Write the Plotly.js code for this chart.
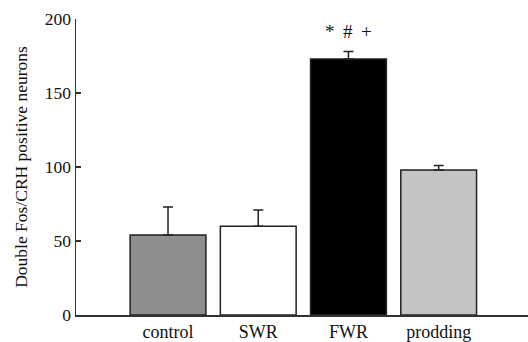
<!DOCTYPE html>
<html>
<head>
<meta charset="utf-8">
<script src="https://cdn.plot.ly/plotly-3.0.1.min.js"></script>
<style>html,body{margin:0;padding:0;background:#fff;}#chart{width:528px;height:342px;}</style>
</head>
<body>
<div id="chart"></div>
<script>
const categories = ["control", "SWR", "FWR", "prodding"];
const values = [54, 60, 173, 98];
const errors = [19, 11, 5, 3];
const barColors = ["#8e8e8e", "#ffffff", "#000000", "#c4c4c4"];
const yTicks = [0, 50, 100, 150, 200];
const significance = "*\u2009 #\u2009 +";
const sigIndex = 2;

const font = "Liberation Serif, Times New Roman, serif";

const trace = {
  type: "bar",
  x: categories,
  y: values,
  marker: { color: barColors, line: { color: "#222", width: 1.5 } },
  error_y: { type: "data", array: errors, symmetric: false, arrayminus: errors.map(() => 0), color: "#222", thickness: 1.5, width: 5 },
  hoverinfo: "none"
};

const layout = {
  width: 528, height: 342,
  margin: { l: 76, r: 0, t: 19, b: 27 },
  paper_bgcolor: "#fff", plot_bgcolor: "#fff",
  font: { family: font, size: 17, color: "#111" },
  bargap: 0.16,
  showlegend: false,
  xaxis: {
    type: "category",
    range: [-1.02, 3.99],
    showline: true, linecolor: "#333", linewidth: 1.5,
    ticks: "", showgrid: false, zeroline: false,
    tickfont: { family: font, size: 18, color: "#111" }
  },
  yaxis: {
    range: [0, 200],
    tickvals: yTicks,
    showline: true, linecolor: "#333", linewidth: 1.5,
    ticks: "inside", ticklen: 5, tickwidth: 1.5, tickcolor: "#333",
    showgrid: false, zeroline: false,
    tickfont: { family: font, size: 17.5, color: "#111" },
    title: { text: "Double Fos/CRH positive neurons", font: { family: font, size: 17.5, color: "#111" }, standoff: 12 }
  },
  annotations: [{
    x: categories[sigIndex], y: values[sigIndex] + errors[sigIndex],
    xref: "x", yref: "y",
    text: significance, showarrow: false,
    yanchor: "bottom", yshift: 8,
    font: { family: font, size: 19, color: "#111" }
  }]
};

Plotly.newPlot("chart", [trace], layout, { displayModeBar: false, staticPlot: true });
</script>
</body>
</html>
